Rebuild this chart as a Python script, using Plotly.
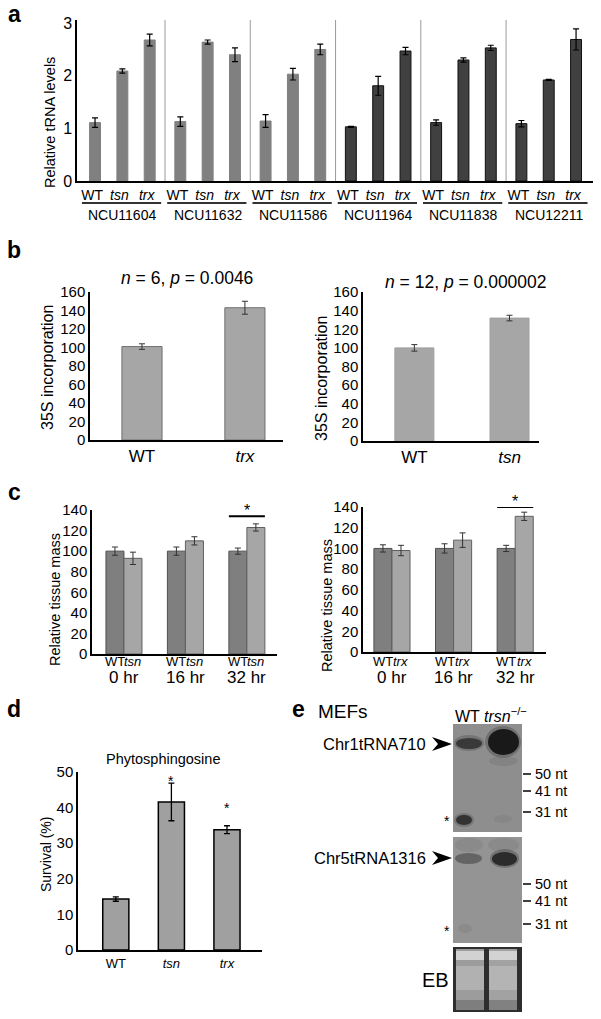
import plotly.graph_objects as go

W, H = 601, 1019
FONT = "Liberation Sans, Arial, sans-serif"

# ---- panel a: relative tRNA levels ----
genes = ["NCU11604", "NCU11632", "NCU11586", "NCU11964", "NCU11838", "NCU12211"]
strains = ["WT", "tsn", "trx"]
trna_wt = [1.11, 1.13, 1.14, 1.03, 1.11, 1.09]
trna_tsn = [2.09, 2.64, 2.03, 1.81, 2.30, 1.92]
trna_trx = [2.68, 2.40, 2.50, 2.47, 2.53, 2.69]
err_wt = [0.09, 0.09, 0.12, 0.01, 0.05, 0.06]
err_tsn = [0.04, 0.04, 0.11, 0.18, 0.04, 0.01]
err_trx = [0.11, 0.13, 0.10, 0.07, 0.05, 0.20]

# ---- panel b: 35S incorporation ----
b_left_labels = ["WT", "trx"]
b_left_vals = [101, 143]
b_left_err = [3, 7]
b_left_title = "n = 6, p = 0.0046"
b_right_labels = ["WT", "tsn"]
b_right_vals = [100, 132]
b_right_err = [3.5, 3]
b_right_title = "n = 12, p = 0.000002"

# ---- panel c: relative tissue mass ----
times = ["0 hr", "16 hr", "32 hr"]
c_wt_left = [100, 100, 100]
c_wt_left_err = [4, 4, 3]
c_tsn = [93, 110, 123]
c_tsn_err = [6, 4, 3.5]
c_wt_right = [100, 100, 100]
c_wt_right_err = [3.5, 4.5, 3]
c_trx = [98, 108, 131]
c_trx_err = [5, 7, 4]

# ---- panel d: survival ----
d_labels = ["WT", "tsn", "trx"]
d_vals = [14.3, 41.6, 33.8]
d_err = [0.6, 5.3, 1.1]
d_stars = ["", "*", "*"]
d_star_y = [None, 47.5, 39.9]

# ---- panel e labels ----
probes = ["Chr1tRNA710", "Chr5tRNA1316"]
nt_marks = ["50 nt", "41 nt", "31 nt"]


def px(x):
    return x / W


def py(y):
    return 1 - y / H


def dom_x(x0, x1):
    return [x0 / W, x1 / W]


def dom_y(top, bottom):
    return [1 - bottom / H, 1 - top / H]


def it(s):
    return s if s == "WT" else "<i>%s</i>" % s


def note(x, y, text, size, xanchor="center", angle=0, xref="paper", yref="paper", yanchor="middle"):
    return dict(x=x, y=y, xref=xref, yref=yref, text=text, showarrow=False, font=dict(size=size),
                xanchor=xanchor, yanchor=yanchor, textangle=angle)


fig = go.Figure()
ann = []
shapes = []

# ---------------- panel a ----------------
STEP = 3.12
ax, aval, aerr, atext, acol, aline = [], [], [], [], [], []
for g in range(len(genes)):
    for j, (v, e) in enumerate([(trna_wt[g], err_wt[g]), (trna_tsn[g], err_tsn[g]), (trna_trx[g], err_trx[g])]):
        ax.append(g * STEP + j)
        aval.append(v)
        aerr.append(e)
        atext.append(it(strains[j]))
        acol.append("#808080" if g < 3 else "#404040")
        aline.append("#808080" if g < 3 else "#111111")
fig.add_trace(go.Bar(x=ax, y=aval, width=0.4, marker=dict(color=acol, line=dict(color=aline, width=1)),
                     error_y=dict(type="data", array=aerr, color="black", thickness=1.2, width=3),
                     xaxis="x", yaxis="y", showlegend=False))
for g in range(len(genes) - 1):
    shapes.append(dict(type="line", xref="x", yref="y", x0=g * STEP + 2.56, x1=g * STEP + 2.56, y0=0, y1=3.06,
                       line=dict(color="#9a9a9a", width=1)))
for g, name in enumerate(genes):
    shapes.append(dict(type="line", xref="x", yref="paper", x0=g * STEP - 0.48, x1=g * STEP + 2.42,
                       y0=py(203), y1=py(203), line=dict(color="#333333", width=2)))
    ann.append(note(g * STEP + 1, py(215), name, 14, xref="x"))
ann.append(note(px(50), py(123), "Relative tRNA levels", 14.5, angle=-90))

# ---------------- panel b ----------------
fig.add_trace(go.Bar(x=[0, 1], y=b_left_vals, width=0.39,
                     marker=dict(color="#a6a6a6", line=dict(color="#707070", width=1)),
                     error_y=dict(type="data", array=b_left_err, color="#333333", thickness=1, width=3),
                     xaxis="x2", yaxis="y2", showlegend=False))
fig.add_trace(go.Bar(x=[0, 1], y=b_right_vals, width=0.41,
                     marker=dict(color="#a6a6a6", line=dict(color="#a0a0a0", width=1)),
                     error_y=dict(type="data", array=b_right_err, color="#333333", thickness=1, width=3),
                     xaxis="x3", yaxis="y3", showlegend=False))
for txt, xc, yc in [(b_left_title, 187, 278), (b_right_title, 466, 282)]:
    n_part, p_part = txt.split(", ")
    t = "<i>n</i>" + n_part[1:] + ", <i>p</i>" + p_part[1:]
    ann.append(note(px(xc), py(yc), t, 17.5))
for xc, yc in [(48, 368), (322, 379)]:
    ann.append(note(px(xc), py(yc), "35S incorporation", 16, angle=-90))

# ---------------- panel c ----------------
BW = 0.293
for xa, ya, wt, wte, mut, mute, mname, ylbl, lx, ly in [
        ("x4", "y4", c_wt_left, c_wt_left_err, c_tsn, c_tsn_err, "tsn", 134, 55, 600),
        ("x5", "y5", c_wt_right, c_wt_right_err, c_trx, c_trx_err, "trx", 140, 327, 606)]:
    fig.add_trace(go.Bar(x=list(range(len(times))), y=wt, width=BW, offset=-BW,
                         marker=dict(color="#7f7f7f", line=dict(color="#505050", width=1)),
                         error_y=dict(type="data", array=wte, color="#333333", thickness=1, width=3),
                         xaxis=xa, yaxis=ya, showlegend=False))
    fig.add_trace(go.Bar(x=list(range(len(times))), y=mut, width=BW, offset=0,
                         marker=dict(color="#a6a6a6", line=dict(color="#606060", width=1)),
                         error_y=dict(type="data", array=mute, color="#333333", thickness=1, width=3),
                         xaxis=xa, yaxis=ya, showlegend=False))
    for i, tname in enumerate(times):
        ann.append(note(i - BW / 2, py(661), "WT", 13, xref=xa))
        ann.append(note(i + BW / 2, py(661), it(mname), 13, xref=xa))
        ann.append(note(i, py(677), tname, 17, xref=xa))
    shapes.append(dict(type="line", xref=xa, yref=ya, x0=2 - BW, x1=2 + BW, y0=ylbl, y1=ylbl,
                       line=dict(color="black", width=2)))
    ann.append(note(2, ylbl, "*", 16, xref=xa, yref=ya, yanchor="bottom"))
    ann[-1]["yshift"] = -5
    ann.append(note(px(lx), py(ly), "Relative tissue mass", 14.5, angle=-90))

# ---------------- panel d ----------------
fig.add_trace(go.Bar(x=[0, 1, 2], y=d_vals, width=0.47,
                     marker=dict(color="#a0a0a0", line=dict(color="black", width=1.5)),
                     error_y=dict(type="data", array=d_err, color="black", thickness=1.3, width=3),
                     xaxis="x6", yaxis="y6", showlegend=False))
for i, s in enumerate(d_stars):
    if s:
        ann.append(note(i, d_star_y[i], s, 14, xref="x6", yref="y6"))
ann.append(note(px(163), py(759), "Phytosphingosine", 14.5))
ann.append(note(px(46), py(855), "Survival (%)", 14, angle=-90))


# ---------------- panel e (blot drawing) ----------------
def rect(x0, y0, x1, y1, color, op=1.0, kind="rect"):
    shapes.append(dict(type=kind, xref="paper", yref="paper", x0=px(x0), x1=px(x1), y0=py(y1), y1=py(y0),
                       fillcolor=color, opacity=op, line=dict(width=0), layer="above"))


rect(453, 724, 522, 832, "#8e8e8e")
rect(453, 837, 522, 943, "#949494")
rect(453, 947, 522, 1012, "#2e2e2e")
# membrane 1 bands
rect(454, 735, 484, 751, "#3a3a3a", 0.3, "circle")
rect(456, 738, 482, 749, "#262626", 0.75, "circle")
rect(485, 726, 521, 758, "#2a2a2a", 0.3, "circle")
rect(488, 729, 519, 755, "#111111", 0.92, "circle")
rect(489, 756, 518, 766, "#6a6a6a", 0.3, "circle")
rect(454, 813, 474, 827, "#3a3a3a", 0.3, "circle")
rect(456, 815, 472, 825, "#222222", 0.8, "circle")
rect(494, 815, 512, 823, "#7a7a7a", 0.35, "circle")
# membrane 2 bands
rect(455, 838, 483, 852, "#7a7a7a", 0.4, "circle")
rect(488, 838, 519, 852, "#7a7a7a", 0.4, "circle")
rect(455, 853, 482, 864, "#444444", 0.6, "circle")
rect(490, 849, 519, 868, "#333333", 0.35, "circle")
rect(492, 852, 517, 866, "#1e1e1e", 0.85, "circle")
rect(458, 924, 472, 933, "#808080", 0.45, "circle")
# EB lanes
rect(456, 949, 484, 1010, "#9c9c9c")
rect(489, 949, 517, 1010, "#a2a2a2")
rect(456, 951, 484, 960, "#d8d8d8", 0.9)
rect(489, 951, 517, 960, "#d8d8d8", 0.9)
rect(456, 966, 484, 990, "#c0c0c0", 0.6)
rect(489, 966, 517, 990, "#c0c0c0", 0.6)
rect(456, 1000, 484, 1010, "#6a6a6a", 0.6)
rect(489, 1000, 517, 1010, "#6a6a6a", 0.6)

for yc in [744, 858]:
    path = "M %f,%f L %f,%f L %f,%f L %f,%f Z" % (px(452), py(yc), px(432), py(yc - 7), px(438), py(yc),
                                                  px(432), py(yc + 7))
    shapes.append(dict(type="path", xref="paper", yref="paper", path=path, fillcolor="black",
                       line=dict(width=0)))
for probe, yc in zip(probes, [744, 858]):
    ann.append(note(px(428), py(yc), probe, 16.5, xanchor="right"))
for ys in [[774, 791, 812], [884, 901, 924]]:
    for lbl, yc in zip(nt_marks, ys):
        shapes.append(dict(type="line", xref="paper", yref="paper", x0=px(523), x1=px(531), y0=py(yc), y1=py(yc),
                           line=dict(color="black", width=1.5)))
        ann.append(note(px(533), py(yc), lbl, 14.5, xanchor="left"))
for yc in [821, 931]:
    ann.append(note(px(447), py(yc), "*", 14))
ann.append(note(px(453), py(715), "WT <i>trsn</i><sup>−/−</sup>", 16, xanchor="left"))
ann.append(note(px(316), py(711), "MEFs", 19, xanchor="left"))
ann.append(note(px(451), py(980), "EB", 20, xanchor="right"))

# panel letters
for letter, xc, yc in [("a", 14, 14), ("b", 14, 250), ("c", 14, 492), ("d", 14, 709), ("e", 298, 709)]:
    ann.append(note(px(xc), py(yc), "<b>%s</b>" % letter, 23))

# ---------------- axes ----------------
yax_common = dict(showgrid=False, zeroline=False, showline=True, linecolor="black", linewidth=1.5,
                  ticks="", fixedrange=True, automargin=False)
xax_common = dict(showgrid=False, zeroline=False, showline=True, linecolor="black", linewidth=2,
                  ticks="", fixedrange=True, tickangle=0, automargin=False)

fig.update_layout(
    width=W, height=H, margin=dict(l=0, r=0, t=0, b=0, pad=0), autosize=False,
    paper_bgcolor="white", plot_bgcolor="white",
    font=dict(family=FONT, color="black"),
    barmode="overlay",
    xaxis=dict(xax_common, domain=dom_x(77, 593), range=[-0.66, 5 * STEP + 2.62], tickvals=ax, ticktext=atext,
               tickfont=dict(size=14), ticklabelshift=-3, anchor="y"),
    yaxis=dict(yax_common, domain=dom_y(20, 181), range=[0, 3.06], tickvals=[0, 1, 2, 3], tickfont=dict(size=16),
               anchor="x"),
    xaxis2=dict(xax_common, domain=dom_x(90, 283), range=[-0.505, 1.37], tickvals=[0, 1],
                ticktext=[it(s) for s in b_left_labels], tickfont=dict(size=17), anchor="y2"),
    yaxis2=dict(yax_common, domain=dom_y(292, 440), range=[0, 160], dtick=20, tickfont=dict(size=15), anchor="x2"),
    xaxis3=dict(xax_common, domain=dom_x(363, 539), range=[-0.54, 1.31], tickvals=[0, 1],
                ticktext=[it(s) for s in b_right_labels], tickfont=dict(size=17), anchor="y3"),
    yaxis3=dict(yax_common, domain=dom_y(292, 441), range=[0, 160], dtick=20, tickfont=dict(size=15), anchor="x3"),
    xaxis4=dict(xax_common, domain=dom_x(92, 277), range=[-0.52, 2.49], showticklabels=False, anchor="y4"),
    yaxis4=dict(yax_common, domain=dom_y(510, 654), range=[0, 140], dtick=20, tickfont=dict(size=15), anchor="x4"),
    xaxis5=dict(xax_common, domain=dom_x(363, 546), range=[-0.47, 2.5], showticklabels=False, anchor="y5"),
    yaxis5=dict(yax_common, domain=dom_y(507, 652), range=[0, 140], dtick=20, tickfont=dict(size=15), anchor="x5"),
    xaxis6=dict(xax_common, domain=dom_x(78, 262), range=[-0.68, 2.63], tickvals=[0, 1, 2],
                ticktext=[it(s) for s in d_labels], tickfont=dict(size=13), anchor="y6"),
    yaxis6=dict(yax_common, domain=dom_y(772, 950), range=[0, 50], dtick=10, tickfont=dict(size=15), anchor="x6"),
    annotations=ann,
    shapes=shapes,
)

# the page body has a default 8px margin; drop it so the figure sits at the window corner
fig.write_html("out.html", config={"displayModeBar": False},
               post_script="document.body.style.margin = '0px';")
